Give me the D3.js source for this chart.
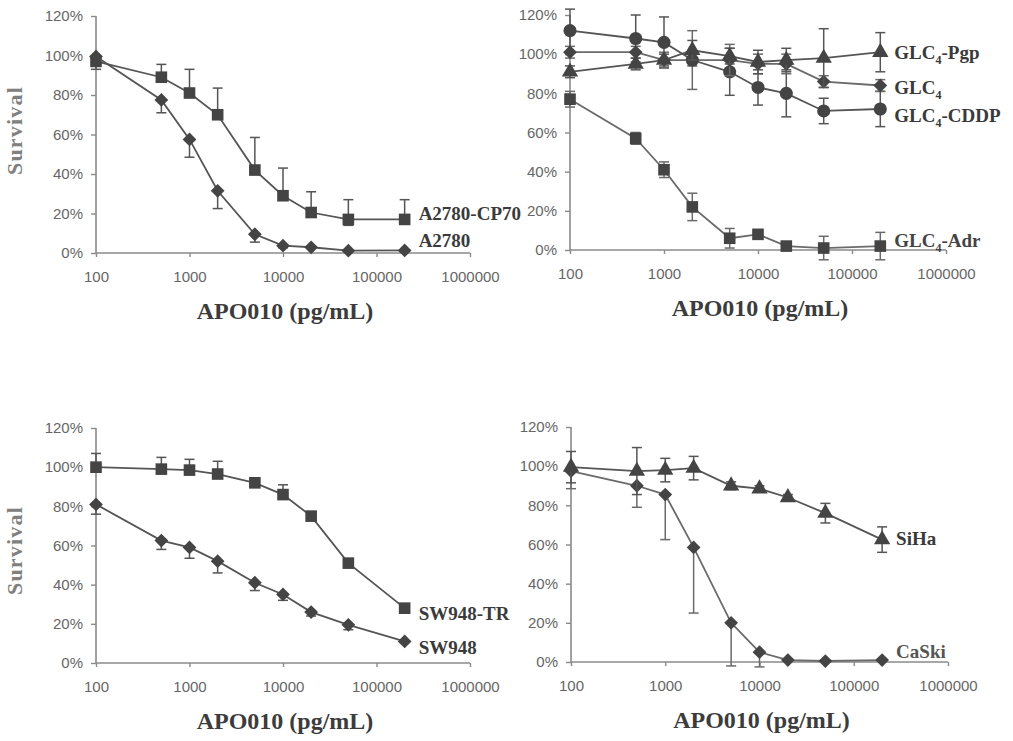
<!DOCTYPE html>
<html><head><meta charset="utf-8">
<script src="https://cdn.jsdelivr.net/npm/d3@7"></script>
<style>body{margin:0;background:#fff}svg{display:block}</style>
</head><body><svg id="c" width="1013" height="741"></svg>
<script>
// ---------- data ----------
const doses = [100, 500, 1000, 2000, 5000, 10000, 20000, 50000, 200000];
const xTicks = [100, 1000, 10000, 100000, 1000000];
const yTicks = [0, 20, 40, 60, 80, 100, 120];

// Panel A
const a2780cp70 = [97, 89, 81, 70, 42, 29, 20.5, 17, 17];
const a2780cp70Up = [0, 6.5, 12, 13.5, 16.5, 14, 10.5, 10, 10];
const a2780cp70Down = [4, 0, 0, 0, 0, 0, 0, 3, 2];
const a2780 = [99.5, 77.5, 57.5, 31.5, 9.5, 3.7, 2.9, 1.2, 1.3];
const a2780Up = [0, 0, 0, 0, 0, 0, 0, 0, 0];
const a2780Down = [0, 6.5, 9, 9, 4, 1, 0, 0, 0];

// Panel B
const glcPgp = [91, 95, 97, 102, 99, 96, 97, 98, 101];
const glcPgpErr = [3, 3, 3, 5, 4, 6, 6, 15, 10];
const glc = [101, 101, 97, 97, 97, 95, 95, 86, 84];
const glcErr = [3, 3, 4, 15, 8, 5, 5, 3, 3];
const glcCddp = [112, 108, 106, 97, 91, 83, 80, 71, 72];
const glcCddpErr = [11, 12, 13, 3, 12, 9, 12, 6.5, 9];
const glcAdr = [77, 57, 41, 22, 6, 8, 2, 1, 2];
const glcAdrErr = [4, 3, 4, 7, 5, 0, 0, 6, 7];

// Panel C
const sw948tr = [100, 99, 98.5, 96.5, 92, 86, 75, 51, 28];
const sw948trUp = [7, 6, 5.5, 6.5, 0, 5, 0, 0, 0];
const sw948trDown = [0, 0, 0, 0, 0, 0, 0, 0, 0];
const sw948 = [81, 62.5, 59, 52, 41, 35, 26, 19.5, 11];
const sw948Up = [0, 0, 0, 0, 0, 0, 0, 0, 0];
const sw948Down = [5, 4.5, 5.5, 6, 4, 3, 2, 2.5, 0];

// Panel D
const siha = [99.5, 97.5, 98, 99, 90, 88.5, 84, 76, 62.5];
const sihaErr = [8, 12, 6, 6, 2, 1.5, 1.5, 5, 6.5];
const caski = [97.5, 90, 85.5, 58.5, 20, 5, 1, 0.5, 1];
const caskiUp = [0, 0, 0, 0, 0, 0, 0, 0, 0];
const caskiDown = [9, 11, 23, 33.5, 22, 7.5, 0, 0, 0];

// ---------- layout ----------
const panels = [
  {x0: 96, x1: 470, yb: 253, yt: 16, ylab: true,
   series: [
     {v: a2780cp70, up: a2780cp70Up, dn: a2780cp70Down, m: "square", label: ["A2780-CP70"], ly: 20.3},
     {v: a2780, up: a2780Up, dn: a2780Down, m: "diamond", label: ["A2780"], ly: 6.6}
   ]},
  {x0: 570, x1: 946, yb: 250, yt: 15, ylab: false,
   series: [
     {v: glcAdr, up: glcAdrErr, dn: glcAdrErr, m: "square", label: ["GLC", "4", "-Adr"], ly: 5, lc: "#444", col: "#6a6a6a"},
     {v: glcCddp, up: glcCddpErr, dn: glcCddpErr, m: "circle", label: ["GLC", "4", "-CDDP"], ly: 69},
     {v: glc, up: glcErr, dn: glcErr, m: "diamond", label: ["GLC", "4", ""], ly: 83, col: "#6a6a6a"},
     {v: glcPgp, up: glcPgpErr, dn: glcPgpErr, m: "triangle", label: ["GLC", "4", "-Pgp"], ly: 101}
   ]},
  {x0: 96, x1: 470, yb: 663, yt: 428, ylab: true,
   series: [
     {v: sw948tr, up: sw948trUp, dn: sw948trDown, m: "square", label: ["SW948-TR"], ly: 25.5},
     {v: sw948, up: sw948Up, dn: sw948Down, m: "diamond", label: ["SW948"], ly: 8.2}
   ]},
  {x0: 571, x1: 948, yb: 662, yt: 427, ylab: false,
   series: [
     {v: caski, up: caskiUp, dn: caskiDown, m: "diamond", label: ["CaSki"], ly: 5.6, lc: "#555", col: "#6a6a6a"},
     {v: siha, up: sihaErr, dn: sihaErr, m: "triangle", label: ["SiHa"], ly: 63.3}
   ]}
];

const svg = d3.select("#c");
const lineCol = "#555", markCol = "#444", axisCol = "#8a8a8a", tickTxt = "#666";

const symbols = {
  square: d3.symbol().type(d3.symbolSquare).size(135),
  diamond: d3.symbol().type(d3.symbolSquare).size(95),
  circle: d3.symbol().type(d3.symbolCircle).size(135),
  triangle: d3.symbol().type(d3.symbolTriangle).size(115)
};

panels.forEach(p => {
  const x = d3.scaleLog().domain([100, 1000000]).range([p.x0, p.x1]);
  const y = d3.scaleLinear().domain([0, 120]).range([p.yb, p.yt]);
  const g = svg.append("g");

  // axes
  const xa = g.append("g").attr("transform", `translate(0,${p.yb})`)
    .call(d3.axisBottom(x).tickValues(xTicks).tickFormat(d3.format("d")).tickSize(4).tickPadding(14));
  const ya = g.append("g").attr("transform", `translate(${p.x0},0)`)
    .call(d3.axisLeft(y).tickValues(yTicks).tickFormat(d => d + "%").tickSize(5).tickPadding(8));
  [xa, ya].forEach(a => {
    a.select(".domain").attr("stroke", axisCol).attr("stroke-width", 1.6);
    a.selectAll(".tick line").attr("stroke", axisCol).attr("stroke-width", 1.4);
    a.selectAll(".tick text").attr("fill", tickTxt).attr("font-family", "Liberation Sans, Arial, sans-serif").attr("font-size", 15);
  });
  ya.select(".domain").attr("d", `M0,${p.yb}V${p.yt}`);
  xa.select(".domain").attr("d", `M${p.x0},0H${p.x1}`);

  // axis titles
  g.append("text").attr("x", (p.x0 + p.x1) / 2 + 2).attr("y", p.yb + 66)
    .attr("text-anchor", "middle").attr("font-family", "Liberation Serif, Times New Roman, serif")
    .attr("font-weight", "bold").attr("font-size", 24).attr("fill", "#3c3c3c").text("APO010 (pg/mL)");
  if (p.ylab) {
    g.append("text").attr("transform", `translate(22,${(p.yb + p.yt) / 2 + (p.yb > 400 ? 5 : -4)}) rotate(-90)`)
      .attr("text-anchor", "middle").attr("font-family", "Liberation Serif, Times New Roman, serif")
      .attr("font-weight", "bold").attr("font-size", 22).attr("letter-spacing", 1.2).attr("fill", "#808080").text("Survival");
  }

  p.series.forEach(s => {
    const col = s.col || lineCol;
    const pts = doses.map((d, i) => ({d, v: s.v[i], up: s.up[i], dn: s.dn[i]}));
    // error bars
    const eb = g.append("g").attr("stroke", col).attr("stroke-width", 1.5).attr("fill", "none");
    pts.forEach(pt => {
      const cx = x(pt.d);
      if (pt.up > 0) {
        eb.append("line").attr("x1", cx).attr("x2", cx).attr("y1", y(pt.v)).attr("y2", y(pt.v + pt.up));
        eb.append("line").attr("x1", cx - 5).attr("x2", cx + 5).attr("y1", y(pt.v + pt.up)).attr("y2", y(pt.v + pt.up));
      }
      if (pt.dn > 0) {
        eb.append("line").attr("x1", cx).attr("x2", cx).attr("y1", y(pt.v)).attr("y2", y(pt.v - pt.dn));
        eb.append("line").attr("x1", cx - 5).attr("x2", cx + 5).attr("y1", y(pt.v - pt.dn)).attr("y2", y(pt.v - pt.dn));
      }
    });
    // line
    g.append("path").datum(pts).attr("fill", "none").attr("stroke", col).attr("stroke-width", 1.8)
      .attr("d", d3.line().x(d => x(d.d)).y(d => y(d.v)));
    // markers
    g.append("g").selectAll("path").data(pts).join("path")
      .attr("d", symbols[s.m])
      .attr("transform", d => `translate(${x(d.d)},${y(d.v)})` + (s.m === "diamond" ? " rotate(45)" : ""))
      .attr("fill", markCol);
    // label
    const t = g.append("text").attr("x", x(200000) + 14).attr("y", y(s.ly)).attr("dy", "0.35em")
      .attr("font-family", "Liberation Serif, Times New Roman, serif").attr("font-weight", "bold")
      .attr("font-size", 19).attr("fill", s.lc || "#3a3a3a");
    t.append("tspan").text(s.label[0]);
    if (s.label.length > 1) {
      t.append("tspan").attr("font-size", 12).attr("dy", 5).text(s.label[1]);
      if (s.label[2]) t.append("tspan").attr("dy", -5).text(s.label[2]);
    }
  });
});
</script></body></html>
